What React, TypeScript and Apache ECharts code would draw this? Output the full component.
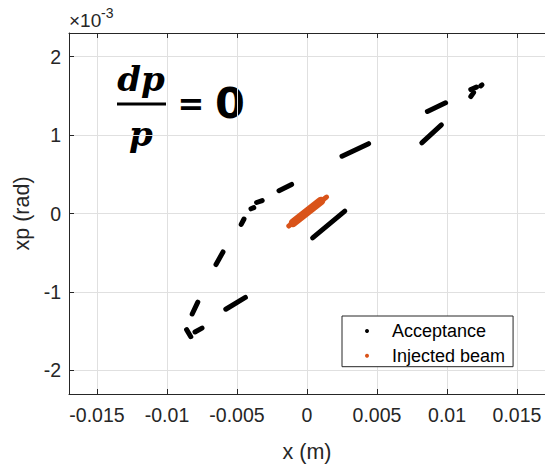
import { useEffect, useRef } from "react";
import * as echarts from "echarts";

// ---- tick values / labels ----
const xTickValues = [-0.015, -0.01, -0.005, 0, 0.005, 0.01, 0.015];
const xTickLabels = ["-0.015", "-0.01", "-0.005", "0", "0.005", "0.01", "0.015"];
const yTickValues = [-2, -1, 0, 1, 2];
const yTickLabels = ["-2", "-1", "0", "1", "2"];

// ---- data: x (m), xp (units of 1e-3 rad) ----
// Acceptance: short particle streaks, each given by its two end points
const acceptanceStreaks: number[][][] = [
  [[-0.0020, 0.29], [-0.0011, 0.37]],
  [[-0.0036, 0.14], [-0.0032, 0.165]],
  [[-0.0040, 0.06], [-0.0038, 0.075]],
  [[-0.0047, -0.14], [-0.0045, -0.07]],
  [[-0.0065, -0.65], [-0.0060, -0.49]],
  [[-0.0058, -1.22], [-0.0044, -1.07]],
  [[-0.0082, -1.28], [-0.0078, -1.13]],
  [[-0.0086, -1.48], [-0.0083, -1.57]],
  [[-0.0080, -1.51], [-0.0075, -1.46]],
  [[0.0004, -0.31], [0.0027, 0.03]],
  [[0.0025, 0.73], [0.0044, 0.89]],
  [[0.0086, 1.30], [0.0099, 1.41]],
  [[0.0082, 0.90], [0.0096, 1.13]],
  [[0.0117, 1.49], [0.0119, 1.54]],
  [[0.0117, 1.58], [0.0121, 1.61]],
  [[0.0124, 1.625], [0.0125, 1.64]],
];
// Injected beam: elongated blob (core and thinner tips)
const injectedBeamCore: number[][] = [[-0.0010, -0.12], [0.0010, 0.16]];
const injectedBeamTips: number[][] = [[-0.0013, -0.16], [0.0014, 0.21]];

const AXIS = "#262626";
const GRID = "#e0e0e0";
const ORANGE = "#D95319";
const FONT = "Liberation Sans, Arial, sans-serif";

function fmt(values: number[], labels: string[]) {
  return (v: number) => {
    const i = values.findIndex((t) => Math.abs(t - v) < 1e-9);
    return i >= 0 ? labels[i] : "";
  };
}

export default function App() {
  const ref = useRef<HTMLDivElement>(null);
  useEffect(() => {
    if (!ref.current) return;
    const chart = echarts.init(ref.current, null, { renderer: "svg" });
    const series: any[] = acceptanceStreaks.map((seg) => ({
      name: "Acceptance",
      type: "line",
      data: seg,
      showSymbol: false,
      color: "#000",
      lineStyle: { color: "#000", width: 5, cap: "round" },
      silent: true,
      z: 3,
    }));
    series.push({
      name: "Injected beam",
      type: "line",
      data: injectedBeamTips,
      showSymbol: false,
      color: ORANGE,
      lineStyle: { color: ORANGE, width: 5, cap: "round" },
      silent: true,
      z: 4,
    });
    series.push({
      name: "Injected beam",
      type: "line",
      data: injectedBeamCore,
      showSymbol: false,
      color: ORANGE,
      lineStyle: { color: ORANGE, width: 8.5, cap: "round" },
      silent: true,
      z: 4,
    });

    chart.setOption({
      animation: false,
      backgroundColor: "#fff",
      grid: { left: 69, right: 0, top: 33, bottom: 70, containLabel: false },
      xAxis: [
        {
          type: "value",
          position: "bottom",
          min: -0.017,
          max: 0.017,
          axisLine: { show: true, onZero: false, lineStyle: { color: AXIS, width: 1 } },
          axisTick: { show: true, inside: true, length: 5, customValues: xTickValues, lineStyle: { color: AXIS } },
          axisLabel: {
            customValues: xTickValues,
            formatter: fmt(xTickValues, xTickLabels),
            color: AXIS,
            fontSize: 19.5,
            fontFamily: FONT,
            margin: 11,
          },
          splitLine: { show: true, lineStyle: { color: GRID, width: 1 } },
          name: "x (m)",
          nameLocation: "middle",
          nameGap: 47,
          nameTextStyle: { color: AXIS, fontSize: 21.5, fontFamily: FONT },
        },
        {
          type: "value",
          position: "top",
          min: -0.017,
          max: 0.017,
          axisLine: { show: true, onZero: false, lineStyle: { color: AXIS, width: 1 } },
          axisTick: { show: true, inside: true, length: 5, customValues: xTickValues, lineStyle: { color: AXIS } },
          axisLabel: { show: false },
          splitLine: { show: false },
        },
      ],
      yAxis: [
        {
          type: "value",
          position: "left",
          min: -2.3,
          max: 2.3,
          axisLine: { show: true, onZero: false, lineStyle: { color: AXIS, width: 1 } },
          axisTick: { show: true, inside: true, length: 5, customValues: yTickValues, lineStyle: { color: AXIS } },
          axisLabel: {
            customValues: yTickValues,
            formatter: fmt(yTickValues, yTickLabels),
            color: AXIS,
            fontSize: 19.5,
            fontFamily: FONT,
            margin: 8,
          },
          splitLine: { show: true, lineStyle: { color: GRID, width: 1 } },
          name: "xp (rad)",
          nameLocation: "middle",
          nameGap: 33,
          nameTextStyle: { color: AXIS, fontSize: 21.5, fontFamily: FONT },
        },
      ],
      legend: {
        orient: "vertical",
        left: 342,
        top: 316,
        padding: [5, 8, 1, 23],
        itemGap: 4.7,
        itemWidth: 40,
        itemHeight: 4,
        backgroundColor: "#fff",
        borderColor: AXIS,
        borderWidth: 1,
        borderRadius: 0,
        textStyle: { color: "#000", fontSize: 18, fontFamily: FONT, lineHeight: 20 },
        data: [
          { name: "Acceptance", icon: "circle" },
          { name: "Injected beam", icon: "circle" },
        ],
      },
      graphic: [
        {
          type: "text",
          x: 69,
          y: 20,
          style: { text: "×10", fill: AXIS, font: `19px ${FONT}`, align: "left", verticalAlign: "middle" },
        },
        {
          type: "text",
          x: 101,
          y: 13,
          style: { text: "-3", fill: AXIS, font: `14px ${FONT}`, align: "left", verticalAlign: "middle" },
        },
        {
          type: "text",
          x: 141,
          y: 79,
          style: {
            text: "dp",
            fill: "#000",
            font: `italic bold 34px "DejaVu Serif", serif`,
            align: "center",
            verticalAlign: "middle",
          },
        },
        {
          type: "line",
          shape: { x1: 117, y1: 104, x2: 166, y2: 104 },
          style: { stroke: "#000", lineWidth: 3 },
        },
        {
          type: "text",
          x: 141,
          y: 134,
          style: {
            text: "p",
            fill: "#000",
            font: `italic bold 34px "DejaVu Serif", serif`,
            align: "center",
            verticalAlign: "middle",
          },
        },
        {
          type: "text",
          x: 191,
          y: 104,
          style: { text: "=", fill: "#000", font: `bold 32px "DejaVu Sans", sans-serif`, align: "center", verticalAlign: "middle" },
        },
        {
          type: "text",
          x: 230,
          y: 103,
          style: { text: "0", fill: "#000", font: `bold 43px "DejaVu Sans", sans-serif`, align: "center", verticalAlign: "middle" },
        },
      ],
      series,
    });
    return () => chart.dispose();
  }, []);
  return (
    <div
      ref={ref}
      style={{ position: "fixed", left: 0, top: 0, width: 545, height: 468, background: "#fff" }}
    />
  );
}
